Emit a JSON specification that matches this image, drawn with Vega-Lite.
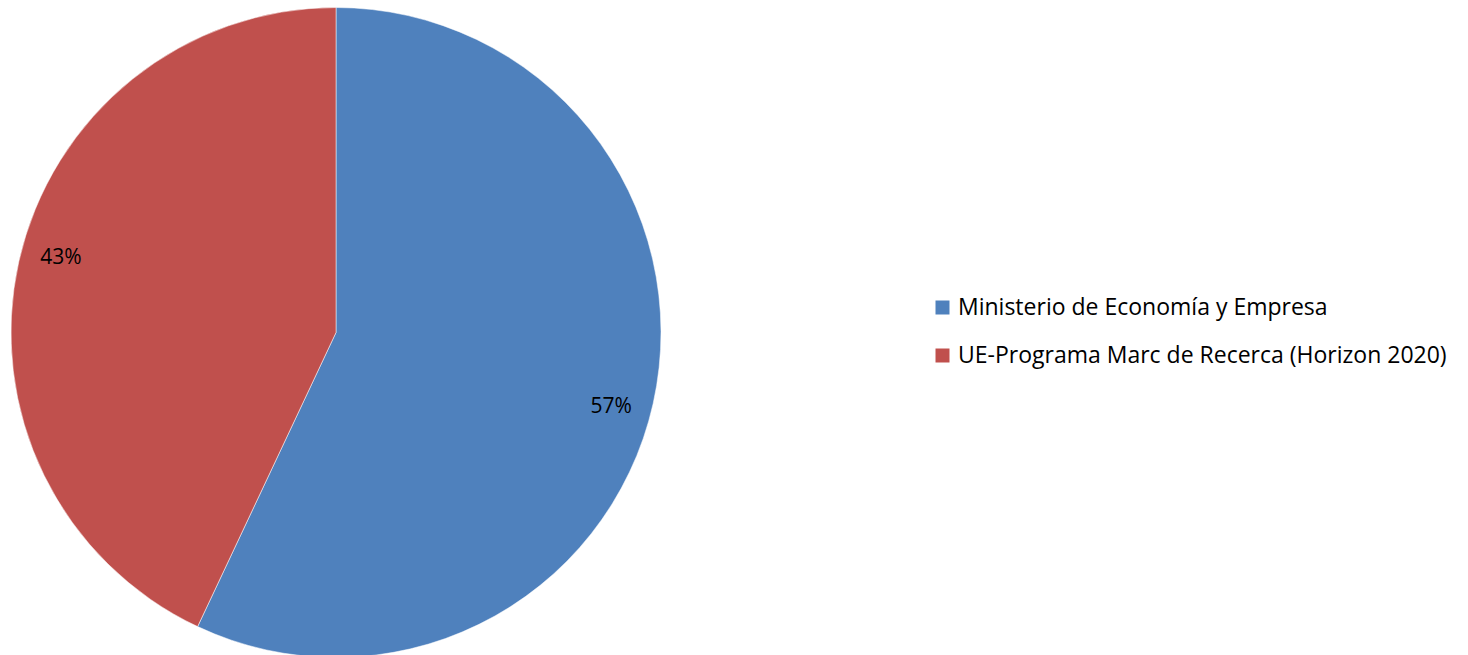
{
  "$schema": "https://vega.github.io/schema/vega-lite/v6.json",
  "width": 672,
  "height": 655,
  "padding": {"left": 0, "top": 5, "right": 796, "bottom": 0},
  "autosize": {"type": "none"},
  "background": "white",
  "view": {"stroke": null},
  "data": {"values": [
    {"source": "Ministerio de Economía y Empresa", "value": 57, "label": "57%", "ord": 1},
    {"source": "UE-Programa Marc de Recerca (Horizon 2020)", "value": 43, "label": "43%", "ord": 2}
  ]},
  "encoding": {
    "order": {"field": "ord", "type": "quantitative"},
    "color": {
      "field": "source", "type": "nominal",
      "scale": {"domain": ["Ministerio de Economía y Empresa", "UE-Programa Marc de Recerca (Horizon 2020)"], "range": ["#4F81BD", "#C0504D"]},
      "legend": {
        "title": null, "orient": "none", "legendX": 931, "legendY": 291,
        "symbolType": "square", "symbolSize": 196, "symbolStrokeWidth": 0,
        "labelFont": "Open Sans", "labelFontSize": 23, "labelColor": "#000000",
        "labelOffset": 4, "rowPadding": 24, "labelLimit": 700
      }
    }
  },
  "layer": [
    {"mark": {"type": "arc", "outerRadius": 325, "stroke": "white", "strokeWidth": 0.5},
     "encoding": {"theta": {"field": "value", "type": "quantitative", "stack": true}}},
    {"mark": {"type": "text", "radius": 285, "font": "Open Sans", "fontSize": 21, "color": "#000000"},
     "encoding": {
       "theta": {"field": "value", "type": "quantitative", "stack": true, "scale": {"range": [0.044, 6.327]}},
       "text": {"field": "label"}, "color": {"value": "#000000"}}}
  ],
  "resolve": {"scale": {"theta": "independent"}}
}
